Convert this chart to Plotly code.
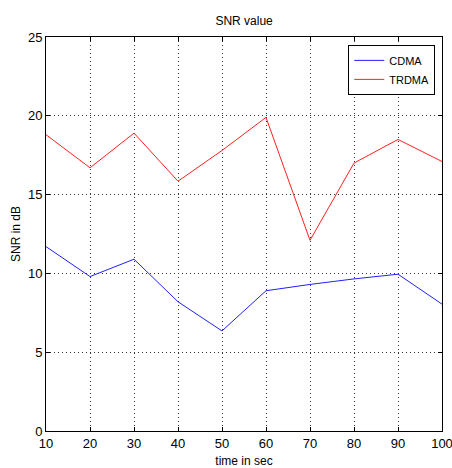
import plotly.graph_objects as go

time_sec = [10, 20, 30, 40, 50, 60, 70, 80, 90, 100]
cdma = [11.7, 9.8, 10.9, 8.2, 6.35, 8.9, 9.3, 9.65, 9.95, 8.05]
trdma = [18.8, 16.7, 18.9, 15.85, 17.8, 19.9, 12.1, 17.0, 18.5, 17.1]
x_ticks = [10, 20, 30, 40, 50, 60, 70, 80, 90, 100]
y_ticks = [0, 5, 10, 15, 20, 25]

FONT = "Liberation Sans Narrow, Liberation Sans, Arial, sans-serif"

fig = go.Figure()
fig.add_trace(go.Scatter(x=time_sec, y=cdma, mode="lines", name="CDMA",
                         line=dict(color="#2020ff", width=1)))
fig.add_trace(go.Scatter(x=time_sec, y=trdma, mode="lines", name="TRDMA",
                         line=dict(color="#ff2020", width=1)))

axis_common = dict(showline=True, linecolor="black", linewidth=1, mirror="ticks",
                   ticks="inside", ticklen=4, tickcolor="black", automargin=False,
                   ticklabeloverflow="allow",
                   showgrid=True, gridcolor="#333333", griddash="1px,3px", gridwidth=1,
                   zeroline=False, tickfont=dict(size=13, color="black", family=FONT))

fig.update_layout(
    width=452, height=468,
    margin=dict(l=46, r=10, t=37, b=37),
    paper_bgcolor="white", plot_bgcolor="white",
    font=dict(family=FONT, color="black", size=12),
    title=dict(text="SNR value", x=0.54, xanchor="center", y=0.955, yanchor="middle",
               font=dict(size=12, family=FONT)),
    xaxis=dict(range=[10, 100], tickvals=x_ticks, title=dict(text="time in sec", standoff=12,
               font=dict(size=12)), **axis_common),
    yaxis=dict(range=[0, 25], tickvals=y_ticks, title=dict(text="SNR in dB", standoff=4,
               font=dict(size=12)), **axis_common),
    legend=dict(x=0.983, y=0.98, xanchor="right", yanchor="top",
                bordercolor="black", borderwidth=1, bgcolor="white",
                font=dict(size=11, family=FONT), tracegroupgap=0,
                itemwidth=30),
    showlegend=True,
)

fig.write_html("out.html")
